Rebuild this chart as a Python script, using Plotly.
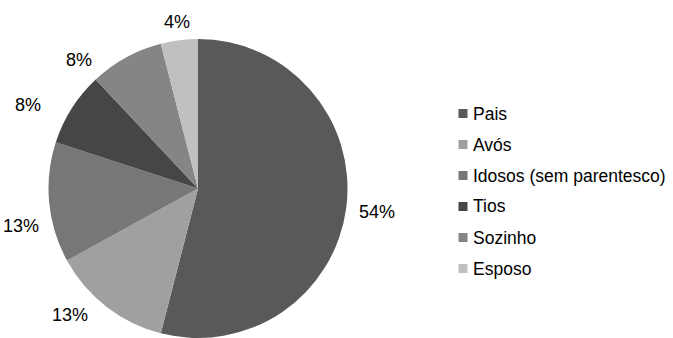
import math
import plotly.graph_objects as go

categories = ["Pais", "Avós", "Idosos (sem parentesco)", "Tios", "Sozinho", "Esposo"]
percentages = [54, 13, 13, 8, 8, 4]
colors = ["#595959", "#a0a0a0", "#777777", "#464646", "#858585", "#c0c0c0"]

W, H = 673, 338
FONT = "Arial"
TXT = "#000000"
LABEL_SIZE = 18

# pie geometry (pixels)
cx, cy, r = 198, 189, 150
dom_x = [(cx - 151) / W, (cx + 151) / W]
dom_y = [0, 1 - 39 / H]

fig = go.Figure(go.Pie(
    labels=categories, values=percentages, sort=False, direction="clockwise",
    rotation=0, marker=dict(colors=colors, line=dict(width=0)),
    textinfo="none", hoverinfo="label+percent", showlegend=False,
    domain=dict(x=dom_x, y=dom_y),
))

# outside-end percentage labels: text box placed just outside each slice's mid angle
label_gap = 12
label_shift_deg = [0, 7.6, -6.3, -6.2, -13.9, 0]   # style nudges (angle)
label_shift_px = [0, 0, 0, 13, 0, 0]               # style nudges (radial)
char_w = {"%": 0.889}
annotations = []
cum = 0
total = sum(percentages)
for v, dang, dr in zip(percentages, label_shift_deg, label_shift_px):
    mid = (cum + v / 2) / total * 360 + dang
    cum += v
    txt = f"{v}%"
    bw = sum(char_w.get(c, 0.556) for c in txt) * LABEL_SIZE
    bh = 0.72 * LABEL_SIZE
    ux, uy = math.sin(math.radians(mid)), -math.cos(math.radians(mid))
    dist = r + label_gap + abs(ux) * bw / 2 + abs(uy) * bh / 2 + dr
    px = cx + dist * ux
    py = max(cy + dist * uy, 22)
    annotations.append(dict(
        x=px / W, y=1 - py / H, xref="paper", yref="paper",
        text=txt, showarrow=False, xanchor="center", yanchor="middle",
        font=dict(family=FONT, size=LABEL_SIZE, color=TXT),
    ))

# manual legend
shapes = []
ly0, lstep, lx = 113.5, 31, 463
for i, (name, col) in enumerate(zip(categories, colors)):
    y = ly0 + i * lstep
    shapes.append(dict(type="rect", xref="paper", yref="paper",
                       x0=(lx - 4.5) / W, x1=(lx + 4.5) / W,
                       y0=1 - (y + 4.5) / H, y1=1 - (y - 4.5) / H,
                       fillcolor=col, line=dict(width=0)))
    annotations.append(dict(
        x=(lx + 8) / W, y=1 - y / H, xref="paper", yref="paper",
        text=name, showarrow=False, xanchor="left", yanchor="middle",
        font=dict(family=FONT, size=17.5, color=TXT),
    ))

fig.update_layout(
    width=W, height=H, margin=dict(l=0, r=0, t=0, b=0),
    paper_bgcolor="white", plot_bgcolor="white",
    annotations=annotations, shapes=shapes,
)
fig.write_html("out.html")
